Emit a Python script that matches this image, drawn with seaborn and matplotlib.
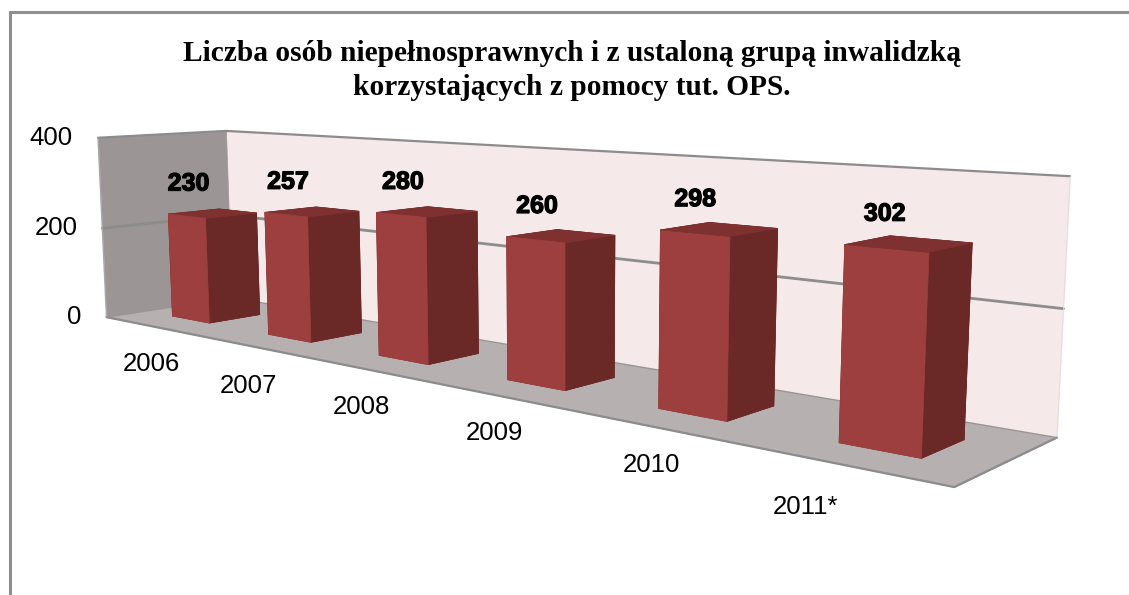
import numpy as np
import pandas as pd
import matplotlib
matplotlib.use("Agg")
import matplotlib.pyplot as plt
import matplotlib.patheffects as pe
from matplotlib.lines import Line2D
from mpl_toolkits.mplot3d.art3d import Poly3DCollection, Line3DCollection
import seaborn as sns

years = ["2006", "2007", "2008", "2009", "2010", "2011*"]
values = [230, 257, 280, 260, 298, 302]
z_ticks = [0, 200, 400]
title = "Liczba osób niepełnosprawnych i z ustaloną grupą inwalidzką\nkorzystających z pomocy tut. OPS."

sns.set_theme(style="white")
plt.rcParams["font.family"] = ["Liberation Sans", "DejaVu Sans"]

W, H = 1129, 595
fig = plt.figure(figsize=(W / 100, H / 100), dpi=100, facecolor="white")
ax = fig.add_axes([0, 0, 1, 1], projection="3d", computed_zorder=False)
ax.apply_aspect = lambda position=None: None
ax.set_axis_off()

n = len(years)
zmax = z_ticks[-1]
bar_w, y0, bar_d = 0.40, 0.30, 0.40
gap = (1 - bar_w) / 2

# camera calibration: world box points -> image pixels (x, depth, height fraction of value)
L, R = gap, 1 - gap
F, B = y0, y0 + bar_d
calib = [((0, 0, 0), (107, 318)), ((0, 1, 0), (229, 300)), ((n, 1, 0), (1056, 437)),
         ((n, 0, 0), (955, 489)), ((0, 0, zmax), (97, 138)), ((0, 1, zmax), (227, 132)),
         ((n, 1, zmax), (1070, 176))] * 2
camera_views = {
    0: [(172, 315), (211, 322), (262, 313), (168, 213), (207, 219), (258, 213), (218, 208)],
    1: [(268, 333), (312, 342), (363, 331), (264, 211), (308, 218), (360, 210), (315, 206)],
    3: [(507, 380), (565, 391), (615, 377), (505, 236), (566, 243), (616, 235), (557, 229)],
    4: [(658, 408), (728, 420), (775, 407), (659, 229), (730, 238), (778, 228), (708, 222)],
    5: [(837, 443), (920, 459), (965, 440), (843, 244), (928, 255), (974, 243), (892, 235)],
}
for i, pts in camera_views.items():
    v = values[i]
    world = [(i + L, F, 0), (i + R, F, 0), (i + R, B, 0), (i + L, F, v), (i + R, F, v), (i + R, B, v), (i + L, B, v)]
    calib += list(zip(world, pts))

A, b = [], []
for (X, Y, Z), (u, v) in calib:
    Zs = Z / zmax
    A.append([X, Y, Zs, 1, 0, 0, 0, 0, -u * X, -u * Y, -u * Zs])
    b.append(u)
    A.append([0, 0, 0, 0, X, Y, Zs, 1, -v * X, -v * Y, -v * Zs])
    b.append(v)
h = np.linalg.lstsq(np.array(A, float), np.array(b, float), rcond=None)[0]
P = np.array([h[:4], h[4:8], [*h[8:11], 1.0]])
P[:, 2] /= zmax  # back to value units


def to_px(x, y, z):
    p = P @ np.array([x, y, z, 1.0])
    return p[0] / p[2], p[1] / p[2]


def projection():
    T = ax.transData.inverted().get_matrix()
    flip = np.array([[1, 0, 0], [0, -1, H], [0, 0, 1]], float)
    Q = T @ flip @ P
    depth = np.array([-0.1, 1.0, -0.5 / zmax, 2.0])
    return np.array([Q[0], Q[1], depth, Q[2]])


ax.get_proj = projection


def label(px, py, s, **kw):
    return fig.text(px / W, 1 - py / H, s, va="center", color="black", **kw)


# walls and floor
wall_back = [[(0, 1, 0), (n, 1, 0), (n, 1, zmax), (0, 1, zmax)]]
wall_left = [[(0, 0, 0), (0, 1, 0), (0, 1, zmax), (0, 0, zmax)]]
floor = [[(0, 0, 0), (n, 0, 0), (n, 1, 0), (0, 1, 0)]]
for poly, col in [(wall_back, "#F5E9E9"), (wall_left, "#9B9595"), (floor, "#B7B0B0")]:
    c = Poly3DCollection(poly, facecolors=col, edgecolors=col, linewidths=0.5, zorder=1)
    ax.add_collection3d(c)


def edge(points, lw, color="#8C8C8C"):
    ax.add_collection3d(Line3DCollection([points], colors=color, linewidths=lw, zorder=2,
                                         capstyle="round", joinstyle="round"))


edge([(0, 0, 200), (0, 1, 200), (n, 1, 200)], 2.0)
edge([(0, 0, zmax), (0, 1, zmax), (n, 1, zmax)], 1.6)
edge([(0, 0, 0), (n, 0, 0), (n, 1, 0)], 1.6)
edge([(0, 0, 0), (0, 0, zmax)], 1.0, "#A8A8A8")
edge([(n, 1, 0), (n, 1, zmax)], 0.6, "#E4DADA")
edge([(0, 0, 0), (0, 1, 0), (n, 1, 0)], 1.0, "#9A9494")

# bars
df = pd.DataFrame({"year": years, "value": values})
xpos = np.arange(n) + gap
front, side, top = "#9E3F3F", "#6A2826", "#7E3130"
faces = [top, top, front, side, side, side] * n
ax.bar3d(xpos, np.full(n, y0), np.zeros(n), bar_w, bar_d, df["value"].to_numpy(float),
         color=faces, edgecolor=faces, linewidth=0.5, shade=False, zorder=3)

# texts
for v in z_ticks:
    px, py = to_px(0, 0, v)
    label(px - 25, py, str(v), ha="right", fontsize=18.5)
year_label_px = [(151, 364), (248, 386), (361, 407), (494, 433), (651, 465), (806, 507)]
for (px, py), y in zip(year_label_px, years):
    label(px, py, y, ha="center", fontsize=18.5)
for i, v in enumerate(values):
    px, py = to_px(i + 0.5, y0 + bar_d / 2, v)
    t = label(px - 24, py - 30, str(v), ha="center", fontsize=18, fontweight="bold")
    t.set_path_effects([pe.withStroke(linewidth=0.9, foreground="black")])

fig.text(572 / W, 1 - 70.5 / H, title, ha="center", va="center", fontsize=21.2, fontweight="bold",
         family=["Liberation Serif", "DejaVu Serif"], color="black", linespacing=1.33)

# chart-area frame
for xs, ys in [((9.5, 9.5), (595, 12)), ((9.5, W), (12, 12))]:
    fig.add_artist(Line2D([x / W for x in xs], [1 - y / H for y in ys], color="#8E8E8E", lw=2.2,
                          transform=fig.transFigure))

fig.savefig("out.png", dpi=100)
